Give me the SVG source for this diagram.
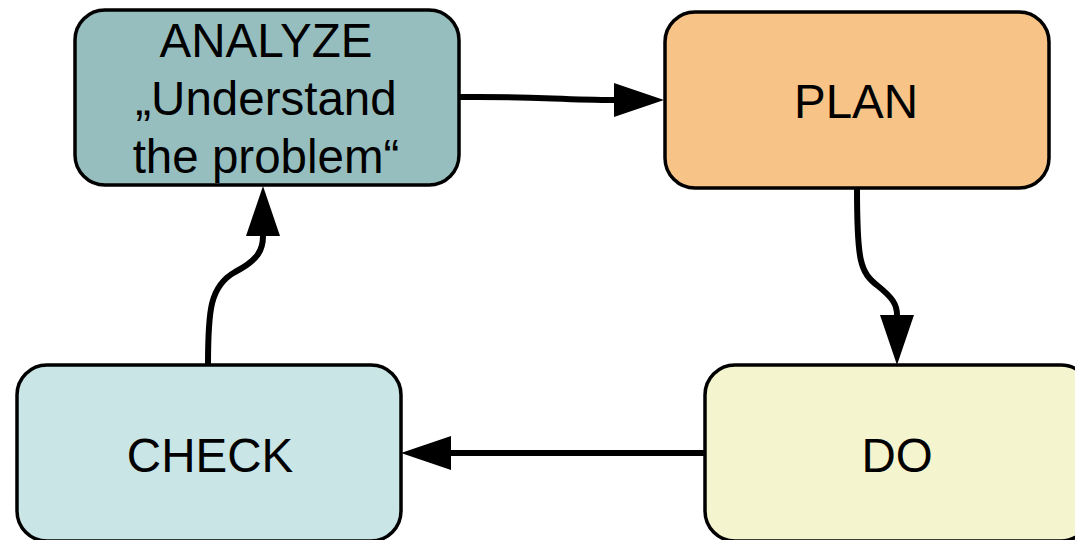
<svg xmlns="http://www.w3.org/2000/svg" width="1075" height="540" viewBox="0 0 1075 540">
  <style>
    .box { stroke: #000; stroke-width: 3.5; }
    .label { font-family: "Liberation Sans", Arial, sans-serif; font-size: 47.5px; fill: #000; text-anchor: middle; }
    .link { fill: none; stroke: #000; stroke-width: 6; }
  </style>
  <defs>
    <marker id="head" viewBox="0 0 50 34" refX="0" refY="17" markerWidth="50" markerHeight="34" markerUnits="userSpaceOnUse" orient="auto">
      <path d="M0,0 L50,17 L0,34 Z" fill="#000"/>
    </marker>
  </defs>
  <rect width="1075" height="540" fill="#fff"/>

  <g id="analyze">
    <rect class="box" x="75" y="10" width="384" height="175" rx="30" fill="#96bebf"/>
    <text class="label" x="266" y="57">ANALYZE</text>
    <text class="label" x="266" y="115">„Understand</text>
    <text class="label" x="266" y="173">the problem“</text>
  </g>

  <g id="plan">
    <rect class="box" x="665" y="12" width="384" height="176" rx="30" fill="#f7c386"/>
    <text class="label" x="856" y="118">PLAN</text>
  </g>

  <g id="check">
    <rect class="box" x="17" y="365" width="384" height="176" rx="30" fill="#c9e5e6"/>
    <text class="label" x="210" y="472">CHECK</text>
  </g>

  <g id="do">
    <rect class="box" x="705" y="365" width="386" height="176" rx="30" fill="#f4f4ce"/>
    <text class="label" x="897" y="472">DO</text>
  </g>

  <g id="connectors">
    <path class="link" d="M459,97 C530,96 560,100 614,100" marker-end="url(#head)"/>
    <path class="link" d="M857,188 C857,262 860,272 878,286 C893,298 897,305 897,315" marker-end="url(#head)"/>
    <path class="link" d="M705,453 L451,453" marker-end="url(#head)"/>
    <path class="link" d="M208,365 C208,310 210,286 235,272 C258,260 263,250 263,236" marker-end="url(#head)"/>
  </g>
</svg>
